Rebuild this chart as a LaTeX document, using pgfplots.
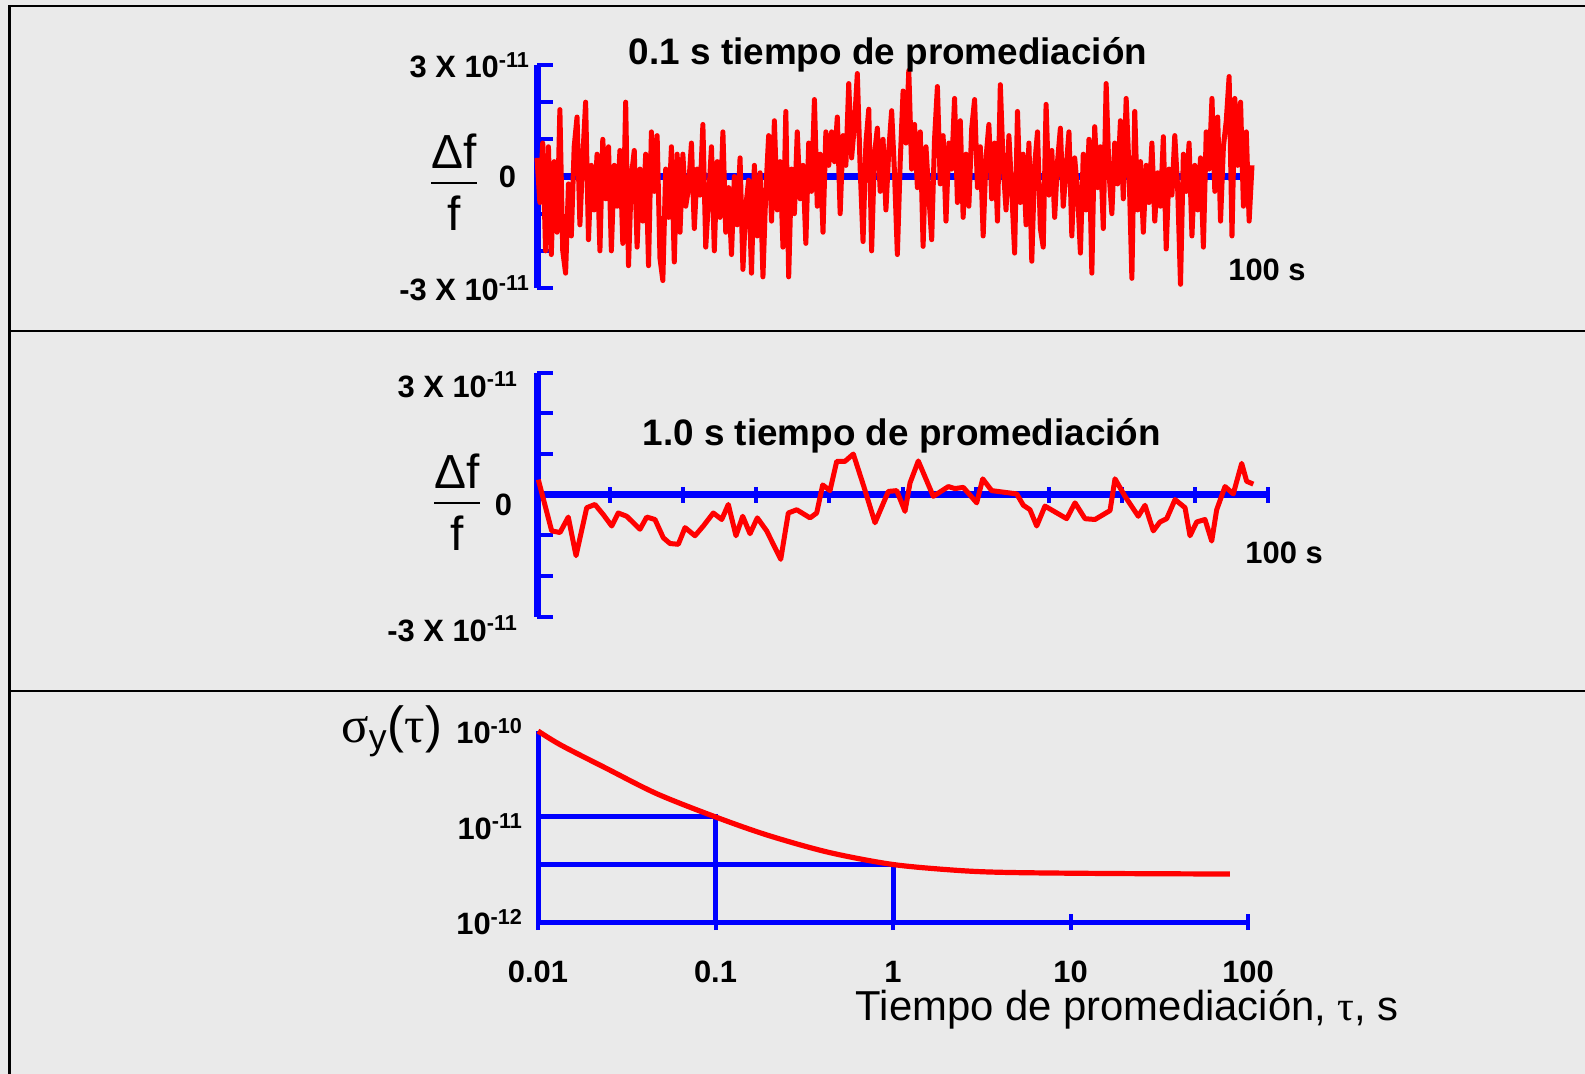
\documentclass[border=0pt]{standalone}
\usepackage{fontspec}
\setmainfont{Liberation Sans}
\newfontfamily\serifgreek{Liberation Serif}
\usepackage{pgfplots}
\pgfplotsset{compat=1.18}
\definecolor{bg}{HTML}{EAEAEA}
\definecolor{pblue}{HTML}{0000FF}
\definecolor{pred}{HTML}{FF0000}
\pgfplotsset{
  panel/.style={
    scale only axis, clip=false, enlargelimits=false,
    tick style={pblue, line width=2bp},
    major tick length=8bp,
    tick label style={font=\fontsize{15.5}{15.5}\selectfont\bfseries},
    hide obscured x ticks=false, hide obscured y ticks=false,
    every axis title shift=0pt,
  },
  nolinearrows/.style={
    axis line style={pblue, line width=3.5bp},
    every inner x axis line/.append style={-},
    every outer x axis line/.append style={-},
    every inner y axis line/.append style={-},
    every outer y axis line/.append style={-},
  },
}
\begin{document}
\begin{tikzpicture}
\useasboundingbox (0,0) rectangle (792.5bp,537bp);
\fill[bg] (0,0) rectangle (792.5bp,537bp);
\draw[black, line width=1.2bp] (4.75bp,0bp) -- (4.75bp,534bp) -- (792.5bp,534bp);
\draw[black, line width=1.2bp] (4.75bp,371.5bp) -- (792.5bp,371.5bp);
\draw[black, line width=1.2bp] (4.75bp,191.5bp) -- (792.5bp,191.5bp);

% ---------------- top panel ----------------
\begin{axis}[panel,
  at={(268.5bp,393bp)}, anchor=south west, width=357.5bp, height=111.5bp,
  xmin=0, xmax=100, ymin=-3, ymax=3,
  axis y line=left, axis x line=middle, nolinearrows,
  xtick=\empty,
  ytick={-3,-2,-1,0,1,2,3},
  yticklabels={-3 X 10\textsuperscript{-11},,,0\kern7bp,,,3 X 10\textsuperscript{-11}},
  ytick align=inside,
  title={0.1 s tiempo de promediación},
  every axis title/.style={at={(rel axis cs:0.491,1.045)}, anchor=center, font=\fontsize{18.5}{18.5}\selectfont\bfseries},
  xlabel={100 s},
  every axis x label/.style={at={(rel axis cs:1.021,0.081)}, anchor=center, font=\fontsize{15.5}{15.5}\selectfont\bfseries},
  ylabel={Δf\\[-20pt]\rule{23bp}{1.2bp}\\[-5pt]f},
  every axis y label/.style={at={(rel axis cs:-0.116,0.475)}, anchor=center, align=center, font=\fontsize{24}{28}\selectfont},
]
\addplot[pred, line width=2.5bp, line join=round] coordinates {
(0,0.5)(0.4,-0.7)(0.8,0.9)(1.2,-2.0)(1.6,0.8)(2,-2.1)(2.4,0.4)(2.8,-1.5)(3.2,1.8)(3.6,-2.0)
(4,-2.6)(4.4,-0.2)(4.8,-1.6)(5.2,0.8)(5.6,1.6)(6,-1.3)(6.4,0.5)(6.8,2.0)(7.2,-1.7)(7.6,0.3)
(8,-0.9)(8.4,0.6)(8.8,-2.0)(9.2,1.0)(9.6,-0.6)(10,0.8)(10.4,-2.0)(10.8,0.3)(11.2,-0.8)(11.6,0.7)
(12,-1.8)(12.4,2.0)(12.8,-2.4)(13.2,0.0)(13.6,0.7)(14,-1.9)(14.4,0.2)(14.8,-1.2)(15.2,0.6)(15.6,-2.4)
(16,1.2)(16.4,-0.4)(16.8,1.1)(17.2,-2.2)(17.6,-2.8)(18,0.2)(18.4,-1.1)(18.8,0.8)(19.2,-2.3)(19.6,0.6)
(20,-1.5)(20.4,0.6)(20.8,-0.8)
(21.2,-0.3)(21.6,0.9)(22,-1.4)(22.4,0.2)(22.8,-0.5)(23.2,1.4)(23.6,-1.9)(24,-0.6)(24.4,0.8)(24.8,-2.0)
(25.2,0.4)(25.6,-1.1)(26,1.2)(26.4,-1.5)(26.8,-0.3)(27.2,-2.1)(27.6,0.0)(28,-1.3)(28.4,0.5)(28.8,-2.5)
(29.2,-0.8)(29.6,-0.1)(30,-2.6)(30.4,0.3)(30.8,-1.6)(31.2,0.1)(31.6,-2.7)(32,-0.4)(32.4,1.1)(32.8,-1.2)
(33.2,1.5)(33.6,-0.9)(34,0.4)(34.4,-1.9)(34.8,1.75)(35.2,-2.7)(35.6,0.2)(36,-1.0)(36.4,1.2)(36.8,-0.6)
(37.2,0.3)(37.6,-1.8)(38,0.9)(38.4,-0.4)(38.8,2.07)(39.2,-0.8)(39.6,0.6)(40,-1.5)(40.4,1.2)(40.8,0.3)
(41.2,1.2)(41.6,0.4)(42,1.6)(42.4,-1.0)(42.8,1.1)(43.2,0.3)(43.6,2.5)(44,0.5)(44.4,1.4)(44.8,2.77)
(45.2,0.2)(45.6,-1.75)(46,0.9)(46.4,1.81)(46.8,-2.0)(47.2,0.6)(47.6,1.3)(48,-0.4)(48.4,1.0)(48.8,-0.9)
(49.2,0.7)(49.6,1.77)(50,0.1)(50.4,-2.1)(50.8,0.4)(51.2,2.3)(51.6,0.9)(52,2.85)(52.4,0.2)(52.8,1.4)
(53.2,-0.3)(53.6,1.2)(54,-1.88)(54.4,0.8)(54.8,-0.5)(55.2,-1.7)(55.6,1.0)(56,2.42)(56.4,-0.2)(56.8,1.1)
(57.2,-1.2)(57.6,0.9)(58,0.2)(58.4,2.1)(58.8,-0.7)(59.2,1.5)(59.6,-1.1)(60,0.6)
(60.4,-0.8)(60.8,1.3)(61.2,2.07)(61.6,-0.3)(62,0.8)(62.4,-1.6)(62.8,0.5)(63.2,1.4)(63.6,-0.6)(64,0.9)
(64.4,-1.2)(64.8,2.47)(65.2,0.3)(65.6,-0.9)(66,1.1)(66.4,-0.4)(66.8,-2.06)(67.2,1.75)(67.6,-0.7)(68,0.6)
(68.4,-1.3)(68.8,0.9)(69.2,-2.28)(69.6,0.3)(70,1.2)(70.4,-1.4)(70.8,-1.9)(71.2,1.94)(71.6,-0.5)(72,0.7)
(72.4,-1.1)(72.8,0.4)(73.2,1.3)(73.6,-0.8)(74,0.2)(74.4,1.2)(74.8,-1.6)(75.2,0.5)(75.6,-0.4)(76,-2.06)
(76.4,0.6)(76.8,-0.9)(77.2,1.0)(77.6,-2.6)(78,1.34)(78.4,-0.3)(78.8,0.8)(79.2,-1.4)(79.6,2.5)(80,0.1)
(80.4,-1.0)(80.8,0.9)(81.2,-0.2)(81.6,1.5)(82,-0.6)(82.4,2.1)(82.8,0.2)(83.2,-2.74)(83.6,1.75)(84,-0.9)
(84.4,0.4)(84.8,-1.5)(85.2,0.3)(85.6,-0.7)(86,0.9)(86.4,-1.2)(86.8,0.1)(87.2,-0.8)(87.6,1.07)(88,-1.95)
(88.4,0.2)(88.8,-0.5)(89.2,1.1)(89.6,-0.3)(90,-2.9)(90.4,0.6)(90.8,-0.4)(91.2,0.9)(91.6,-1.6)(92,0.3)
(92.4,-0.9)(92.8,0.5)(93.2,-1.9)(93.6,1.2)(94,0.2)(94.4,2.1)(94.8,-0.4)(95.2,1.6)(95.6,-1.2)(96,0.8)
(96.4,1.5)(96.8,2.69)(97.2,-1.6)(97.6,2.1)(98,0.3)(98.4,2.0)(98.8,-0.8)(99.2,1.2)(99.6,-1.2)(100,0.3)
};
\end{axis}

% ---------------- middle panel ----------------
\begin{axis}[panel,
  at={(268.5bp,228.65bp)}, anchor=south west, width=365.5bp, height=122bp,
  xmin=0, xmax=100, ymin=-3, ymax=3,
  axis y line=left, axis x line=middle, nolinearrows,
  xtick={10,20,...,100}, xticklabels={,,,,,,,,,}, xtick align=center,
  ytick={-3,-2,-1,0,1,2,3},
  yticklabels={-3 X 10\textsuperscript{-11},,,\raisebox{1.5bp}{0}\kern3bp,,,3 X 10\textsuperscript{-11}},
  yticklabel style={xshift=-6bp, yshift=-6bp},
  ytick align=inside,
  title={1.0 s tiempo de promediación},
  every axis title/.style={at={(rel axis cs:0.499,0.742)}, anchor=center, font=\fontsize{18.5}{18.5}\selectfont\bfseries},
  xlabel={100 s},
  every axis x label/.style={at={(rel axis cs:1.022,0.261)}, anchor=center, font=\fontsize{15.5}{15.5}\selectfont\bfseries},
  ylabel={Δf\\[-20pt]\rule{23bp}{1.2bp}\\[-5pt]f},
  every axis y label/.style={at={(rel axis cs:-0.109,0.47)}, anchor=center, align=center, font=\fontsize{24}{28}\selectfont},
]
\addplot[pred, line width=2.5bp, line join=round] coordinates {
(0.18,0.37)(2.01,-0.89)(3.15,-0.93)(4.28,-0.55)(5.34,-1.5)(6.80,-0.32)(7.93,-0.24)(9.07,-0.49)
(10.22,-0.77)(11.12,-0.45)(12.27,-0.53)(14.09,-0.85)(15.01,-0.55)(16.14,-0.61)(17.28,-1.06)(18.19,-1.2)
(19.33,-1.22)(20.25,-0.81)(21.61,-1.01)(22.75,-0.77)(24.12,-0.45)(25.27,-0.61)(26.17,-0.24)(27.22,-1.01)
(28.14,-0.53)(29.14,-0.96)(30.14,-0.57)(31.42,-0.89)(33.34,-1.59)(34.38,-0.45)(35.53,-0.37)(37.35,-0.57)
(38.26,-0.45)(39.08,0.24)(40.08,0.1)(41.0,0.82)(42.13,0.82)(43.27,1.0)(44.64,0.24)(46.24,-0.69)
(48.06,0.08)(49.21,0.1)(50.34,-0.41)(51.03,0.29)(52.16,0.83)(54.21,-0.04)(56.27,0.2)(57.18,0.15)
(58.32,0.18)(60.15,-0.2)(60.97,0.39)(62.20,0.1)(65.62,0.02)(66.53,-0.26)(67.44,-0.37)(68.36,-0.77)
(69.49,-0.28)(72.46,-0.59)(73.60,-0.2)(74.97,-0.59)(76.33,-0.61)(78.39,-0.39)(79.07,0.39)(80.44,-0.04)
(82.26,-0.53)(83.17,-0.26)(84.31,-0.89)(85.23,-0.67)(86.14,-0.59)(87.28,-0.12)(88.65,-0.32)(89.33,-1.01)
(90.25,-0.67)(91.38,-0.61)(92.30,-1.14)(92.98,-0.37)(94.12,0.2)(95.25,0.02)(96.40,0.77)(97.08,0.33)
(97.99,0.26)
};
\end{axis}

% ---------------- bottom panel ----------------
\begin{axis}[panel,
  at={(269bp,76bp)}, anchor=south west, width=355bp, height=95.5bp,
  xmode=log, ymode=log, xmin=0.01, xmax=100, ymin=1e-12, ymax=1e-10,
  axis lines=left, axis line style={pblue, line width=2.5bp, -},
  xminorticks=false, yminorticks=false,
  xtick={0.01,0.1,1,10,100}, xticklabels={0.01,0.1,1,10,100}, xtick align=center,
  xticklabel style={yshift=-12bp},
  ytick={1e-12,1e-11,1e-10},
  yticklabels={10\textsuperscript{-12},10\textsuperscript{-11},10\textsuperscript{-10}},
  ytick style={draw=none},
  xlabel={Tiempo de promediación, {\serifgreek τ}, s},
  every axis x label/.style={at={(rel axis cs:0.83,-0.46)}, anchor=center, font=\fontsize{21}{21}\selectfont},
  ylabel={{\serifgreek σ}\textsubscript{y}({\serifgreek τ})},
  every axis y label/.style={at={(rel axis cs:-0.206,1.0)}, anchor=center, font=\fontsize{25.5}{25.5}\selectfont},
]
\addplot[pblue, line width=2.5bp] coordinates {(0.01,1.26e-11) (0.1,1.26e-11) (0.1,1e-12)};
\addplot[pblue, line width=2.5bp] coordinates {(0.01,4e-12) (1,4e-12) (1,1e-12)};
\addplot[pred, line width=2.6bp, smooth] coordinates {
(0.01,1.0e-10)(0.0135,7.1e-11)(0.0243,4.06e-11)(0.0468,2.2e-11)(0.1,1.26e-11)(0.197,8.1e-12)
(0.433,5.37e-12)(1,4.0e-12)(2.37,3.46e-12)(4.56,3.3e-12)(16.9,3.22e-12)(79,3.18e-12)
};
\end{axis}
\end{tikzpicture}
\end{document}
